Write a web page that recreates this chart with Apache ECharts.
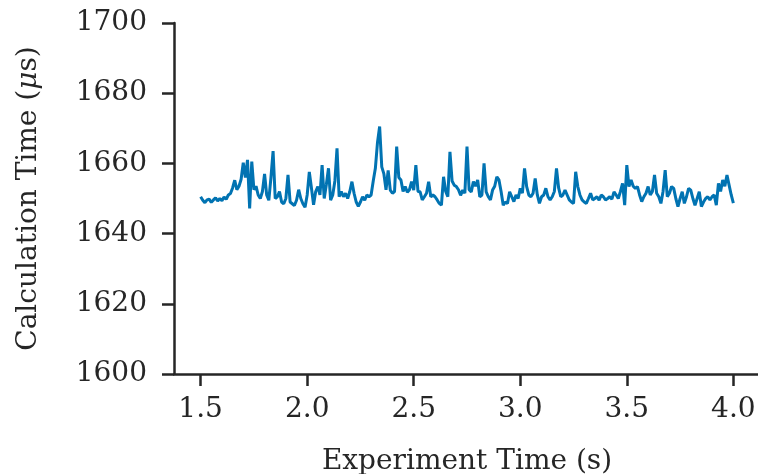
<!DOCTYPE html>
<html>
<head>
<meta charset="utf-8">
<script src="https://cdn.jsdelivr.net/npm/echarts@6/dist/echarts.min.js"></script>
<style>html,body{margin:0;padding:0;background:#fff}#c{width:758px;height:474px}</style>
</head>
<body>
<div id="c"></div>
<script>
// Sampling of the experiment time axis (s)
const startTime = 1.5;
const timeStep = 0.01;
// Calculation time (µs) at each sample
const calcTime = [
1650.5,1649.5,1648.8,1649.6,1649.8,1648.9,1649.6,1650.2,1649.3,1650.0,
1649.4,1650.4,1649.8,1651.0,1651.4,1653.0,1655.2,1652.5,1653.5,1655.5,
1660.2,1656.0,1661.0,1647.2,1660.5,1652.5,1653.5,1651.0,1650.0,1652.0,
1657.0,1651.0,1649.5,1656.0,1663.5,1650.0,1650.5,1652.0,1649.0,1648.5,
1650.0,1656.7,1649.0,1648.5,1648.0,1649.5,1652.5,1650.0,1648.5,1647.5,
1651.0,1657.6,1653.0,1648.2,1652.0,1653.4,1651.0,1659.5,1650.0,1654.0,
1658.6,1649.5,1651.0,1655.0,1664.3,1650.5,1652.0,1650.5,1651.5,1650.0,
1652.0,1654.8,1651.5,1649.0,1647.8,1649.0,1650.5,1649.5,1651.0,1650.5,
1651.0,1655.0,1658.6,1666.0,1670.5,1659.0,1657.0,1652.5,1658.0,1652.4,
1651.5,1652.0,1664.8,1656.0,1655.3,1652.0,1653.4,1651.8,1652.5,1654.8,
1652.4,1659.5,1652.0,1651.9,1649.6,1650.5,1651.5,1654.8,1650.5,1651.0,
1650.5,1649.6,1648.6,1648.1,1656.2,1652.0,1650.5,1663.3,1655.0,1653.8,
1653.4,1652.5,1650.9,1652.4,1651.5,1664.8,1652.5,1651.9,1654.8,1653.5,
1655.3,1650.5,1651.0,1660.0,1651.9,1650.5,1649.6,1652.4,1653.5,1656.2,
1655.3,1652.0,1648.1,1649.0,1648.6,1651.9,1650.5,1649.1,1651.0,1650.0,
1652.9,1651.5,1658.6,1653.4,1651.0,1650.5,1651.5,1655.7,1651.0,1648.6,
1650.5,1651.0,1652.9,1650.5,1649.6,1650.5,1652.0,1658.6,1653.0,1650.5,
1651.0,1652.4,1651.0,1649.6,1649.0,1648.6,1657.6,1653.4,1651.0,1649.6,
1649.0,1648.6,1650.0,1651.5,1649.6,1650.0,1650.5,1649.5,1651.0,1650.5,
1649.6,1650.0,1650.5,1649.8,1651.9,1651.0,1650.0,1652.0,1654.3,1648.1,
1659.5,1653.4,1655.3,1653.5,1652.9,1653.4,1651.0,1649.1,1650.5,1651.5,
1653.4,1651.0,1652.0,1656.7,1651.5,1650.5,1648.6,1652.0,1658.1,1650.5,
1651.5,1653.4,1652.9,1650.0,1647.7,1650.0,1651.9,1648.6,1650.5,1652.9,
1652.4,1650.0,1648.1,1650.0,1651.9,1647.7,1649.0,1650.0,1650.5,1649.6,
1650.5,1651.0,1648.1,1654.3,1652.0,1655.3,1653.5,1656.7,1653.8,1651.0,
1648.7
];
const xTicks = [1.5, 2.0, 2.5, 3.0, 3.5, 4.0];
const yTicks = [1600, 1620, 1640, 1660, 1680, 1700];

const points = calcTime.map((v, i) => [+(startTime + i * timeStep).toFixed(2), v]);

const ink = '#262626';
const font = 'DejaVu Serif';
const fs = 28;

const chart = echarts.init(document.getElementById('c'), null, {renderer: 'canvas'});
chart.setOption({
  animation: false,
  backgroundColor: '#ffffff',
  grid: {left: 174, top: 23, right: -2, bottom: 100, containLabel: false, outerBoundsMode: 'none'},
  xAxis: {
    type: 'value',
    min: 1.375, max: 4.125,
    name: 'Experiment Time (s)',
    nameLocation: 'middle',
    nameGap: 74,
    nameTextStyle: {fontFamily: font, fontSize: fs, color: ink},
    axisLine: {show: true, onZero: false, lineStyle: {color: ink, width: 2.5}},
    axisTick: {show: true, length: 12, lineStyle: {color: ink, width: 2.5}, customValues: xTicks},
    axisLabel: {fontFamily: font, fontSize: fs, color: ink, margin: 22, customValues: xTicks,
      formatter: v => v.toFixed(1)},
    splitLine: {show: false}
  },
  yAxis: {
    type: 'value',
    min: yTicks[0], max: yTicks[yTicks.length - 1], interval: 20,
    name: 'Calculation Time ({i|μ}s)',
    nameLocation: 'middle',
    nameGap: 131,
    nameRotate: 90,
    nameTextStyle: {fontFamily: font, fontSize: fs, color: ink,
      rich: {i: {fontFamily: font, fontSize: fs, color: ink, fontStyle: 'italic'}}},
    axisLine: {show: true, onZero: false, lineStyle: {color: ink, width: 2.5}},
    axisTick: {show: true, length: 12, lineStyle: {color: ink, width: 2.5}},
    axisLabel: {fontFamily: font, fontSize: fs, color: ink, margin: 27,
      formatter: v => String(v)},
    splitLine: {show: false}
  },
  series: [{
    type: 'line',
    data: points,
    showSymbol: false,
    symbol: 'none',
    lineStyle: {color: '#0173b2', width: 3},
    itemStyle: {color: '#0173b2'}
  }]
});
</script>
</body>
</html>
